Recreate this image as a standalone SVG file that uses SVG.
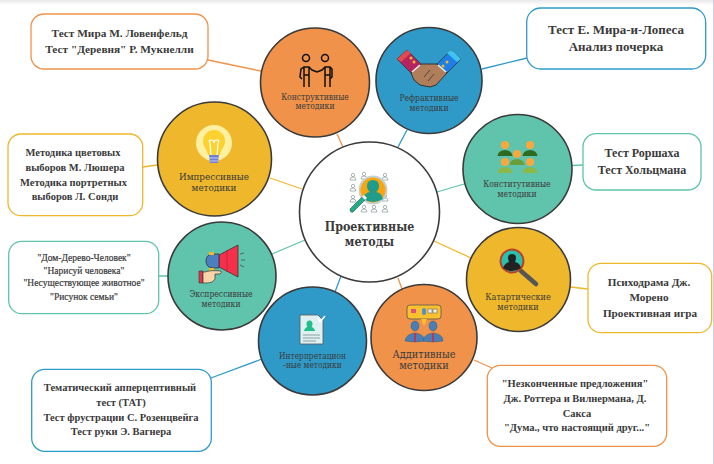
<svg xmlns="http://www.w3.org/2000/svg" width="714" height="464" viewBox="0 0 714 464">
<style>
.n{stroke:#3a3a3a;stroke-width:1.6}
.b{fill:#fff;stroke-width:1.3}
.o{stroke:#f0924a}.y{stroke:#efb82c}.t{stroke:#60c3ab}.u{stroke:#2f9ac8}
.c{fill:none;stroke-width:1.3}
text{text-anchor:middle;fill:#3a3a3a}
.bt{font-family:"Liberation Serif",serif;font-weight:700;font-size:10.500px}
.lb{font-family:"DejaVu Serif",serif;font-stretch:condensed;font-size:8.500px}
.ln{fill:none;stroke:#111;stroke-width:1.500}
.ppl{fill:#fff;stroke:#8a9a9a;stroke-width:.7}
</style>
<defs>
<linearGradient id="top" x1="0" y1="0" x2="0" y2="1"><stop offset="0" stop-color="#e8e8e8"/><stop offset="1" stop-color="#fff"/></linearGradient>
<g id="pp"><circle cx="0" cy="-3" r="1.700" class="ppl"/><path d="M-3 2Q-3-1 0-1Q3-1 3 2Z" class="ppl"/></g>
</defs>
<rect width="714" height="464" fill="#fff"/>
<rect width="714" height="5" fill="url(#top)"/>
<rect x="713" width="1" height="464" fill="#d9c8ef"/>
<g id="connectors">
<path class="c o" d="M208 60L261 71M337 134L343 147M398 278L402 289M474 360L492 368"/>
<path class="c y" d="M143 167L157 165M270 178L302 189M434 241L471 258M570 287L588 289"/>
<path class="c u" d="M482 69L527 58M407 130L398 147M341 276L335 292M211 378L262 359"/>
<path class="c t" d="M572 165.500L583 165M437 192L464 184M272 254L305 240M159 276L168 276"/>
</g>
<g id="box-konstr"><rect class="b o" x="31" y="14" width="177" height="55" rx="13"/><text class="bt" x="119.500" y="37" style="font-size:11.300px">Тест Мира М. Ловенфельд</text><text class="bt" x="119.500" y="53" style="font-size:11.300px">Тест "Деревня" Р. Мукнелли</text></g>
<g id="box-refr"><rect class="b u" x="526.700" y="8" width="179" height="61" rx="14"/><text class="bt" x="616" y="33.500" style="font-size:13px">Тест Е. Мира-и-Лопеса</text><text class="bt" x="616" y="51" style="font-size:13px">Анализ почерка</text></g>
<g id="box-impr"><rect class="b y" x="8" y="134" width="134.700" height="81.700" rx="13"/><text class="bt" x="73" y="156">Методика цветовых</text><text class="bt" x="75" y="171">выборов М. Люшера</text><text class="bt" x="73.500" y="186">Методика портретных</text><text class="bt" x="75" y="200">выборов Л. Сонди</text></g>
<g id="box-konstit"><rect class="b t" x="583" y="133.700" width="118" height="56.300" rx="13"/><text class="bt" x="642" y="157" style="font-size:12px">Тест Роршаха</text><text class="bt" x="642" y="174" style="font-size:12px">Тест Хольцмана</text></g>
<g id="box-expr"><rect class="b t" x="8.700" y="241.300" width="150" height="72.400" rx="13"/><text class="bt" x="84" y="261" style="font-size:9.500px;font-weight:400;stroke:#3a3a3a;stroke-width:.2">"Дом-Дерево-Человек"</text><text class="bt" x="84" y="273.700" style="font-size:9.500px;font-weight:400;stroke:#3a3a3a;stroke-width:.2">"Нарисуй человека"</text><text class="bt" x="84" y="286" style="font-size:9.500px;font-weight:400;stroke:#3a3a3a;stroke-width:.2">"Несуществующее животное"</text><text class="bt" x="84" y="299.700" style="font-size:9.500px;font-weight:400;stroke:#3a3a3a;stroke-width:.2">"Рисунок семьи"</text></g>
<g id="box-kat"><rect class="b y" x="588" y="263.300" width="123.700" height="69.400" rx="13"/><text class="bt" x="649" y="286" style="font-size:11.200px">Психодрама Дж.</text><text class="bt" x="649" y="301" style="font-size:11.200px">Морено</text><text class="bt" x="650" y="317" style="font-size:11.200px">Проективная игра</text></g>
<g id="box-interp"><rect class="b u" x="31.700" y="369.300" width="179.600" height="82" rx="13"/><text class="bt" x="120" y="391">Тематический апперцептивный</text><text class="bt" x="121" y="406">тест (ТАТ)</text><text class="bt" x="121" y="421">Тест фрустрации С. Розенцвейга</text><text class="bt" x="121" y="435">Тест руки Э. Вагнера</text></g>
<g id="box-add"><rect class="b o" x="487.300" y="365.300" width="179.400" height="81" rx="13"/><text class="bt" x="575" y="387">"Незконченные предложения"</text><text class="bt" x="575" y="402">Дж. Роттера и Вилнермана, Д.</text><text class="bt" x="577" y="417">Сакса</text><text class="bt" x="577" y="431">"Дума., что настоящий друг..."</text></g>

<g id="node-konstr"><circle class="n" cx="315" cy="82.500" r="54.500" fill="#f0924a"/>
<path class="ln" d="M304 75V87M309 75V87M304 67L301 69L300 77L302 79M309 67L312 70L317 72L322 70L325 67M325 75V87M330 75V87M330 67L332 69L332 77L330 79M304 67H309V75H304ZM325 67H330V75H325Z"/>
<circle class="ln" cx="306" cy="58" r="3.500"/><circle class="ln" cx="325" cy="58" r="3.500"/>
<text class="lb" x="315" y="100">Конструктивные</text><text class="lb" x="315" y="109">методики</text></g>

<g id="node-refr"><circle class="n" cx="429" cy="80.500" r="53" fill="#2f9ac8"/>
<path d="M397 59L407 50L421 64L411 73Z" fill="#b5245f" stroke="#333" stroke-width=".8"/><path d="M407 50L411 53L401 62L397 59Z" fill="#e04a50"/>
<path d="M461 59L451 50L437 64L447 73Z" fill="#1f7fe8" stroke="#333" stroke-width=".8"/><path d="M451 50L455 53L461 59L457 62L447 53Z" fill="#3fc4f0"/>
<path d="M411 73L421 64L437 64L447 73L436 85L430 87L420 85L414 80Z" fill="#b07e5a" stroke="#333" stroke-width="1"/>
<path d="M430 70L424 77M434 74L428 81" stroke="#333" stroke-width=".8" fill="none"/>
<path d="M412 72L420 65M446 72L438 65" stroke="#eee" stroke-width="1.600" fill="none"/>
<circle cx="411" cy="58" r="1.500" fill="#f0b82c"/><circle cx="414" cy="62" r="1.500" fill="#f0b82c"/><circle cx="447" cy="62" r="1.500" fill="#f0b82c"/><circle cx="443" cy="66" r="1.500" fill="#f0b82c"/>
<text class="lb" x="429" y="101">Рефрактивные</text><text class="lb" x="429" y="111">методики</text></g>

<g id="node-impr"><circle class="n" cx="214.500" cy="159" r="57" fill="#efb82c"/>
<circle cx="214" cy="143" r="18" fill="#fdf0a0"/>
<path d="M208 155C207 149 203 147 203 141A11 11 0 0 1 225 141C225 147 221 149 220 155Z" fill="#fbd230"/>
<path d="M211 155L210 143Q208 140 211 140Q214 140 214 143Q214 140 217 140Q220 140 218 143L217 155" fill="none" stroke="#fff" stroke-width="1.200"/>
<path d="M209 155H219L218 163H210Z" fill="#6f7fd6"/>
<path d="M209 158H219M210 161H218" stroke="#c7cdf3" stroke-width="1"/>
<text class="lb" x="214" y="180" style="font-size:9.800px">Импрессивные</text><text class="lb" x="214" y="191" style="font-size:9.800px">методики</text></g>

<g id="node-konstit"><circle class="n" cx="517.500" cy="169" r="54.500" fill="#60c3ab"/>
<path d="M497.500 156A7.500 6 0 0 1 512.500 156ZM522.500 156A7.500 6 0 0 1 537.500 156Z" fill="#2e6a1f"/>
<path d="M509.500 165A7.500 6 0 0 1 524.500 165Z" fill="#6a9e3a"/>
<path d="M497.500 173A7.500 6 0 0 1 512.500 173ZM522.500 173A7.500 6 0 0 1 537.500 173Z" fill="#8cb84a"/>
<g fill="#f9a93c"><circle cx="505" cy="145" r="4"/><circle cx="530" cy="145" r="4"/><circle cx="517" cy="154" r="4"/><circle cx="505" cy="162" r="4"/><circle cx="530" cy="162" r="4"/></g>
<text class="lb" x="517" y="187">Конститутивные</text><text class="lb" x="517" y="197">методики</text></g>

<g id="node-kat"><circle class="n" cx="518.500" cy="279.500" r="52" fill="#efb82c"/>
<path d="M521 271L536 284" stroke="#555" stroke-width="4.500" stroke-linecap="round"/>
<circle cx="512" cy="261" r="11.500" fill="#2ac0b0" stroke="#b5432a" stroke-width="2"/>
<path d="M503 268Q505 263 509 262Q506 254 512 254Q518 254 515 262Q520 263 521 268Q512 274 503 268Z" fill="#222"/>
<text class="lb" x="518" y="300" style="font-size:9px">Катартические</text><text class="lb" x="518" y="309.500" style="font-size:9px">методики</text></g>

<g id="node-add"><circle class="n" cx="424" cy="337.500" r="53" fill="#f0924a"/>
<rect x="407" y="305" width="34" height="14" rx="3" fill="#fbc02d" stroke="#555" stroke-width=".8"/><path d="M421 319L424 326L427 319Z" fill="#fbc02d"/>
<rect x="411" y="309" width="5" height="4" fill="#e0507a"/><rect x="422" y="308" width="4" height="7" rx="2" fill="#5b8ec2"/><rect x="428" y="309" width="4" height="4" fill="#eee" stroke="#555" stroke-width=".5"/><rect x="433" y="309" width="4" height="4" fill="#eee" stroke="#555" stroke-width=".5"/>
<g fill="#4a7fb5" stroke="#3c5a78" stroke-width=".5"><ellipse cx="415" cy="326" rx="4" ry="5"/><path d="M405 341Q406 334 415 333Q424 334 425 341Q415 343 405 341Z"/><ellipse cx="433" cy="326" rx="4" ry="5"/><path d="M423 341Q424 334 433 333Q443 334 443 341Q433 343 423 341Z"/></g>
<path d="M415 333V342M433 333V342" stroke="#c62f4f" stroke-width="1.800"/>
<text class="lb" x="424" y="357.500" style="font-size:10.800px">Аддитивные</text><text class="lb" x="424" y="369" style="font-size:10.800px">методики</text></g>

<g id="node-interp"><circle class="n" cx="312.500" cy="341" r="54" fill="#2f9ac8"/>
<path d="M300 315H318L323 320V344H300Z" fill="#dff0f2" stroke="#555" stroke-width=".8"/>
<path d="M304 331A5 4 0 0 1 315 331ZM306.500 324A3 3.500 0 1 1 312.500 324A3 3.500 0 1 1 306.500 324Z" fill="#1fbf8a"/>
<path d="M303 335H320M303 338H320M303 341H316" stroke="#7a8a90" stroke-width=".8"/>
<path d="M318 318L320 322L325 316" fill="none" stroke="#fff" stroke-width="1.500"/>
<text class="lb" x="312.500" y="358.500" style="font-size:8.300px">Интерпретацион</text><text class="lb" x="312.500" y="367.500" style="font-size:8.300px">-ные методики</text></g>

<g id="node-expr"><circle class="n" cx="222" cy="276" r="54" fill="#60c3ab"/>
<path d="M219 255L238 245V277L219 267Z" fill="#f5304a" stroke="#333" stroke-width=".8"/>
<path d="M227 250V272" stroke="#c01f3a" stroke-width=".8"/>
<path d="M219 254H212Q206 255 206 261Q206 267 212 268H219Z" fill="#4a7fbf" stroke="#333" stroke-width=".8"/>
<rect x="209" y="252" width="5" height="3" fill="#f0b82c"/><rect x="209" y="268" width="5" height="3" fill="#f0b82c"/>
<path d="M199 271H203V283H199Z" fill="#e0374a" stroke="#333" stroke-width=".6"/>
<path d="M203 272H205Q210 270 221 271Q222 273 220 274H215V279Q213 283 208 283H203Z" fill="#fbd3a8" stroke="#333" stroke-width=".7"/>
<path d="M240 254L244 253M241 260H245M240 265L244 267" stroke="#333" stroke-width=".6"/>
<text class="lb" x="221" y="297">Экспрессивные</text><text class="lb" x="221" y="307">методики</text></g>

<g id="node-center"><circle class="n" cx="369.500" cy="212" r="70" fill="#fff"/>
<use href="#pp" x="353" y="178"/><use href="#pp" x="353" y="189"/><use href="#pp" x="353" y="200"/><use href="#pp" x="364" y="210"/><use href="#pp" x="374" y="210"/><use href="#pp" x="385" y="210"/><use href="#pp" x="385" y="178"/><use href="#pp" x="364" y="177"/><use href="#pp" x="385" y="199"/>
<circle cx="373" cy="190" r="13.500" fill="#f9a60e" stroke="#c6d0d0" stroke-width="2"/>
<path d="M363 199Q364 193 370 192Q367 190 367 186Q367 180 373 180Q379 180 379 186Q379 190 376 192Q382 193 383 199Q373 205 363 199Z" fill="#1f9c8a"/>
<path d="M350 209L362 197L365 200L353 212Q350 213 350 209Z" fill="#1fae8a" stroke="#333" stroke-width=".5"/>
<path d="M363 196L366 199" stroke="#eee" stroke-width="3"/>
<text x="369.500" y="231" style="font:700 12.300px 'DejaVu Serif',serif;font-stretch:condensed">Проективные</text>
<text x="369.500" y="246" style="font:700 12.300px 'DejaVu Serif',serif;font-stretch:condensed">методы</text></g>
</svg>
